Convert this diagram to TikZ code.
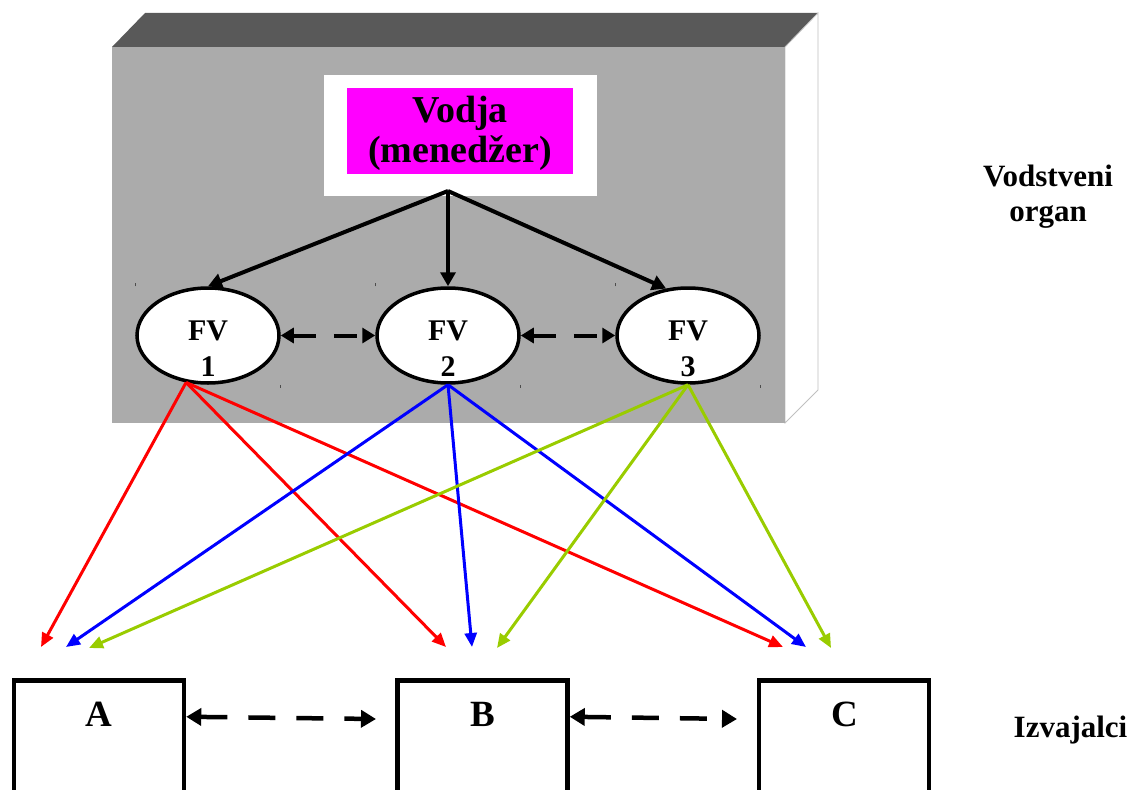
\documentclass[tikz,border=0pt]{standalone}
\usepackage{fontspec}
\setmainfont{Liberation Serif}
\usetikzlibrary{shapes.geometric,arrows.meta}

\definecolor{frontgray}{HTML}{ABABAB}
\definecolor{topgray}{HTML}{595959}
\definecolor{edgegray}{HTML}{C0C0C0}
\definecolor{leafgreen}{HTML}{99CC00}
\definecolor{vodjapink}{HTML}{FF00FF}

\tikzset{
  panel/.style={fill=white, minimum width=273pt, minimum height=121pt, inner sep=0pt},
  leader/.style={fill=vodjapink, minimum width=226pt, minimum height=86pt, inner sep=0pt},
  leadertext/.style={align=center, inner sep=0pt, yshift=-3pt,
    font=\bfseries\fontsize{38}{40}\selectfont},
  fvnode/.style={ellipse, draw, line width=3.5pt, fill=white,
    minimum width=142pt, minimum height=95pt, inner sep=0pt},
  fvlabel/.style={font=\bfseries\fontsize{30}{36}\selectfont, align=center,
    inner sep=0pt, yshift=-13.5pt},
  unitbox/.style={draw, line width=4.5pt, minimum width=170pt, minimum height=200pt, inner sep=0pt},
  unitlabel/.style={font=\bfseries\fontsize{37}{40}\selectfont, anchor=base, inner sep=0pt},
  sidelabel/.style={font=\bfseries\fontsize{31}{35}\selectfont, align=center, inner sep=0pt},
  command/.style={line width=4pt, -{Triangle[length=14pt,width=15pt]}},
  link/.style={line width=3pt, -{Triangle[length=14pt,width=12pt]}},
  peer/.style={line width=4pt, dash pattern=on 23pt off 18pt,
    {Triangle[length=13pt,width=15pt]}-{Triangle[length=13pt,width=15pt]}},
  unitpeer/.style={line width=4.5pt, dash pattern=on 27pt off 21pt,
    {Triangle[length=15pt,width=17pt]}-{Triangle[length=15pt,width=17pt]}},
  corner/.style={line width=1pt, draw=black!70},
}

\begin{document}
\begin{tikzpicture}[x=1pt, y=-1pt]
  \useasboundingbox (0,0) rectangle (1134,789);
  \clip (0,0) rectangle (1134,789);

  % three-dimensional block behind the management level
  \fill[topgray] (112,47) -- (145,13) -- (818,13) -- (785,47) -- cycle;
  \filldraw[fill=white, draw=edgegray, line width=0.8pt]
    (785,47) -- (818,13) -- (818,390) -- (785,423) -- cycle;
  \fill[frontgray] (112,47) rectangle (785,423);

  % leader
  \node[panel] (frame) at (460.5,135.5) {};
  \node[leader, label={[leadertext]center:Vodja\\(menedžer)}] (vodja) at (460,130.7) {};
  \coordinate (hub) at (448,191);

  % functional managers
  \node[fvnode, label={[fvlabel]center:FV\\1}] (fv1) at (208,335.5) {};
  \node[fvnode, label={[fvlabel]center:FV\\2}] (fv2) at (448,335.5) {};
  \node[fvnode, label={[fvlabel]center:FV\\3}] (fv3) at (688,335.5) {};

  \foreach \f in {fv1,fv2,fv3}{
    \draw[corner] (\f.west |- \f.north) -- ++(0,-3);
    \draw[corner] (\f.east |- \f.south) -- ++(0,3);
  }

  \draw[command] (hub) -- (fv1.north);
  \draw[command] (hub) -- (fv2.north);
  \draw[command] (hub) -- (fv3.115);

  \draw[peer] (fv1.east) -- (fv2.west);
  \draw[peer] (fv2.east) -- (fv3.west);

  % executing units
  \node[unitbox] (ua) at (99,780.5) {};
  \node[unitbox] (ub) at (482.5,780.5) {};
  \node[unitbox] (uc) at (844,780.5) {};
  \node[unitlabel] (la) at (99,726) {A};
  \node[unitlabel] (lb) at (482.5,726) {B};
  \node[unitlabel] (lc) at (845,726) {C};

  \coordinate (abend) at (376,719);
  \coordinate (bcend) at (737,719);
  \draw[unitpeer] ([yshift=-38.5pt]ua.north east) -- (abend);
  \draw[unitpeer] ([yshift=-38.5pt]ub.north east) -- (bcend);

  % assignment arrows towards the units
  \coordinate (ra) at (41,647);  \coordinate (rb) at (446,647);  \coordinate (rc) at (783,647);
  \coordinate (ba) at (66,647);  \coordinate (bb) at (472,647);  \coordinate (bc) at (806,647);
  \coordinate (ga) at (89,648);  \coordinate (gb) at (497,648);  \coordinate (gc) at (831,648);

  \draw[link, red] (fv1.245) -- (ra);
  \draw[link, red] (fv1.245) -- (rb);
  \draw[link, red] (fv1.245) -- (rc);
  \draw[link, blue] (fv2.south) -- (ba);
  \draw[link, blue] (fv2.south) -- (bb);
  \draw[link, blue] (fv2.south) -- (bc);
  \draw[link, leafgreen] (fv3.south) -- (ga);
  \draw[link, leafgreen] (fv3.south) -- (gb);
  \draw[link, leafgreen] (fv3.south) -- (gc);

  % level captions
  \node[sidelabel] (organ) at (1048,197) {Vodstveni\\organ};
  \node[sidelabel, anchor=base] (izv) at (1070.5,737) {Izvajalci};
\end{tikzpicture}
\end{document}
